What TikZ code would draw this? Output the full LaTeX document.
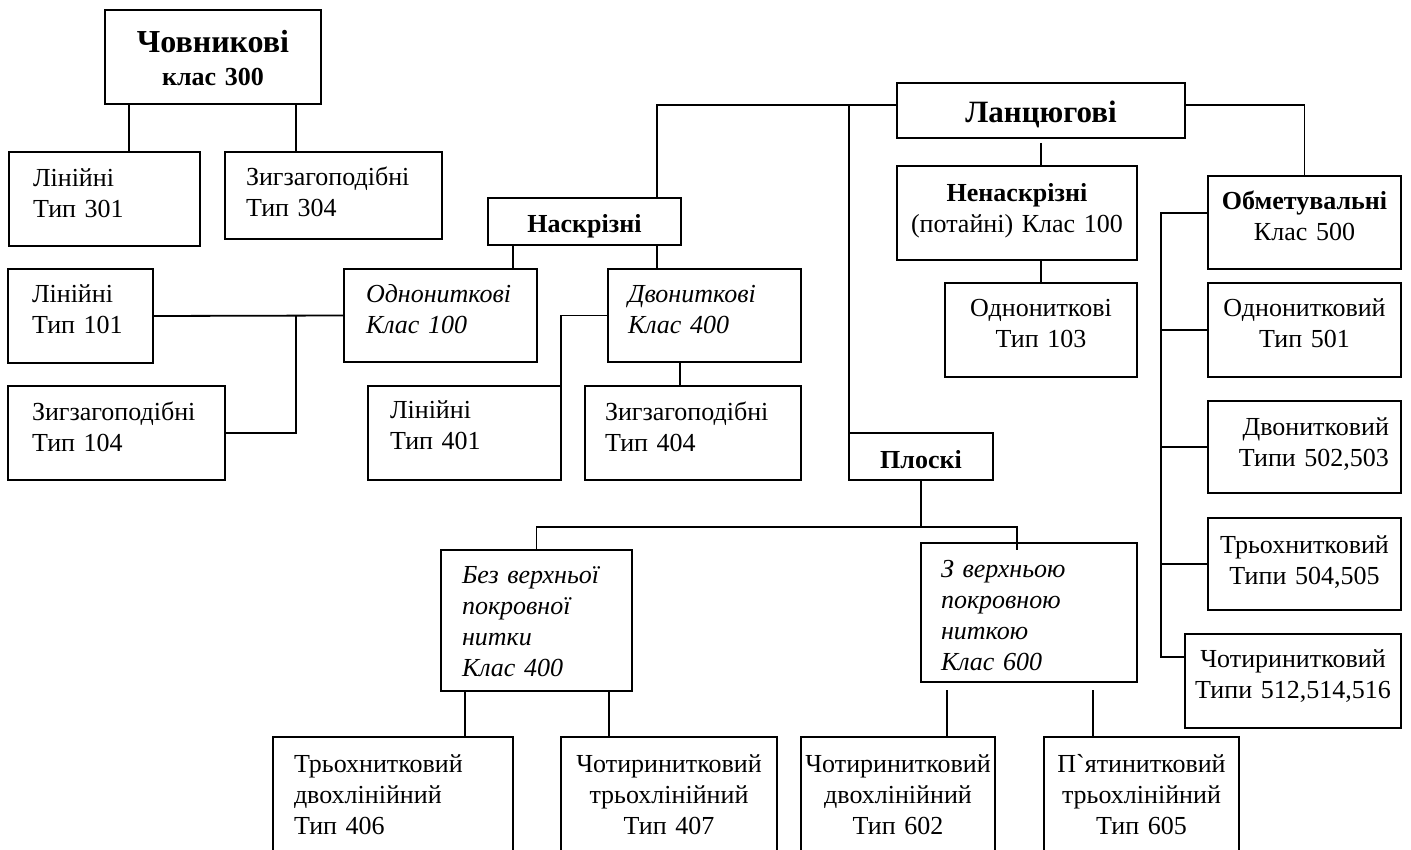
\documentclass[tikz,border=0pt]{standalone}
\usepackage{fontspec}
\setmainfont{Liberation Serif}[Ligatures=TeXOff]
\newcommand\txtfont{\fontsize{26}{31}\selectfont}
\newcommand\hdfont{\fontsize{26}{31}\selectfont\bfseries}
\newcommand\bigfont{\fontsize{31}{33}\selectfont\bfseries}
\begin{document}
\begin{tikzpicture}[x=1pt, y=-1pt, line width=1.8pt,
    box/.style={draw, anchor=north west, outer sep=0pt, inner ysep=0pt,
      text height=34pt, text depth=60pt, font=\txtfont},
    lbox/.style={box, align=left},
    cbox/.style={box, align=center},
    ibox/.style={lbox, font=\txtfont\itshape}]
  \useasboundingbox (0,0) rectangle (1411,850);
  \clip (0,0) rectangle (1411,850);

  % shuttle stitches
  \node[cbox, text width=200pt, inner xsep=8pt, text height=43pt, text depth=51pt,
    font=\fontsize{26}{33}\selectfont\bfseries] (chov) at (105,10) {{\fontsize{32}{33}\selectfont Човникові}\\клас 300};
  \node[lbox, text width=143pt, inner xsep=24pt, text height=35pt, text depth=59pt] (lin301) at (9,152) {Лінійні\\Тип 301};
  \node[lbox, text width=175pt, inner xsep=21pt, text depth=53pt] (zig304) at (225,152) {Зигзагоподібні\\Тип 304};

  % chain stitches
  \node[cbox, text width=268pt, inner xsep=10pt, text height=40pt, text depth=15pt, font=\bigfont] (lanc) at (897,83) {Ланцюгові};
  \node[cbox, text width=177pt, inner xsep=8pt, text height=35pt, text depth=12pt, font=\hdfont] (naskr) at (488,198) {Наскрізні};
  \node[cbox, text width=240pt, inner xsep=0pt, text height=36pt, text depth=58pt] (nenaskr) at (897,166) {{\hdfont Ненаскрізні}\\(потайні) Клас 100};
  \node[cbox, text width=185pt, inner xsep=4pt, text depth=59pt] (obmet) at (1208,176) {{\hdfont Обметувальні}\\Клас 500};

  \node[lbox, text width=97pt, inner xsep=24pt] (lin101) at (8,269) {Лінійні\\Тип 101};
  \node[ibox, text width=149pt, inner xsep=22pt, text depth=59pt] (odn100) at (344,269) {Однониткові\\Клас 100};
  \node[ibox, text width=153pt, inner xsep=20pt, text depth=59pt] (dvon400) at (608,269) {Двониткові\\Клас 400};
  \node[cbox, text width=180pt, inner xsep=6pt] (odn103) at (945,283) {Однониткові\\Тип 103};
  \node[cbox, text width=189pt, inner xsep=2pt] (odn501) at (1208,283) {Однонитковий\\Тип 501};

  \node[lbox, text width=169pt, inner xsep=24pt] (zig104) at (8,386) {Зигзагоподібні\\Тип 104};
  \node[lbox, text width=149pt, inner xsep=22pt, text height=32pt, text depth=62pt] (lin401) at (368,386) {Лінійні\\Тип 401};
  \node[lbox, text width=176pt, inner xsep=20pt] (zig404) at (585,386) {Зигзагоподібні\\Тип 404};
  \node[box, align=right, text width=169pt, inner xsep=12pt, text depth=58pt] (dvon502) at (1208,401) {Двонитковий\\Типи 502,503};

  % flat stitches
  \node[cbox, text width=128pt, inner xsep=8pt, text height=35pt, text depth=12pt, font=\hdfont] (ploski) at (849,433) {Плоскі};
  \node[cbox, text width=185pt, inner xsep=4pt, text height=35pt, text depth=57pt] (tri504) at (1208,518) {Трьохнитковий\\Типи 504,505};
  \node[ibox, text width=149pt, inner xsep=21pt, text height=33pt, text depth=108pt] (bez) at (441,550) {Без верхньої\\покровної\\нитки\\Клас 400};
  \node[ibox, text width=176pt, inner xsep=20pt, text depth=105pt] (zver) at (921,543) {З верхньою\\покровною\\ниткою\\Клас 600};
  \node[cbox, text width=208pt, inner xsep=4pt, text height=33pt, text depth=61pt] (chot512) at (1185,634) {Чотиринитковий\\Типи 512,514,516};

  \node[lbox, text width=198pt, inner xsep=21pt, text height=35pt, text depth=120pt] (tri406) at (273,737) {Трьохнитковий\\двохлінійний\\Тип 406};
  \node[cbox, text width=208pt, inner xsep=4pt, text height=35pt, text depth=120pt] (chot407) at (561,737) {Чотиринитковий\\трьохлінійний\\Тип 407};
  \node[cbox, text width=194pt, inner xsep=0pt, text height=35pt, text depth=120pt] (chot602) at (801,737) {Чотиринитковий\\двохлінійний\\Тип 602};
  \node[cbox, text width=187pt, inner xsep=4pt, text height=35pt, text depth=120pt] (pyat605) at (1044,737) {П`ятинитковий\\трьохлінійний\\Тип 605};

  % connectors
  \draw ([xshift=24pt]chov.south west) coordinate (a1) -- (a1 |- lin301.north);
  \draw ([xshift=-25pt]chov.south east) coordinate (a2) -- (a2 |- zig304.north);
  \draw ([yshift=5.5pt]lanc.west) coordinate (bus) -| ([xshift=-24pt]naskr.north east);
  \draw (ploski.north west) -- (ploski.north west |- bus);
  \draw ([yshift=5.5pt]lanc.east) -| (obmet.north);
  \draw ([yshift=-5pt]lanc.south) -- (lanc.south |- nenaskr.north);
  \draw (odn103.north |- nenaskr.south) -- (odn103.north);
  \draw ([xshift=25pt]naskr.south west) coordinate (a3) -- (a3 |- odn100.north);
  \draw ([xshift=-24pt]naskr.south east) coordinate (a4) -- (a4 |- dvon400.north);
  \draw (odn100.west) -- (lin101.east);
  \draw ([xshift=-48pt]odn100.west) |- (zig104.east);
  \draw (dvon400.west) -| (lin401.north east);
  \draw ([xshift=72pt]dvon400.south west) coordinate (a5) -- (a5 |- zig404.north);
  \draw (bez.north) |- ([yshift=-47pt]ploski.south) coordinate (fork) -| ([xshift=-12pt,yshift=-7pt]zver.north);
  \draw (ploski.south) -- (fork);
  \draw ([xshift=24pt]bez.south west) coordinate (a6) -- (a6 |- tri406.north);
  \draw ([xshift=-23pt]bez.south east) coordinate (a7) -- (a7 |- chot407.north);
  \draw ([xshift=26pt,yshift=-8pt]zver.south west) coordinate (a8) -- (a8 |- chot602.north);
  \draw ([xshift=-44pt,yshift=-8pt]zver.south east) coordinate (a9) -- (a9 |- pyat605.north);
  \draw ([yshift=9.5pt]obmet.west) -| ([xshift=-24pt,yshift=24pt]chot512.west) coordinate (rail)
    -- ([yshift=24pt]chot512.west);
  \draw (odn501.west) -- (odn501.west -| rail);
  \draw (dvon502.west) -- (dvon502.west -| rail);
  \draw (tri504.west) -- (tri504.west -| rail);
\end{tikzpicture}
\end{document}
